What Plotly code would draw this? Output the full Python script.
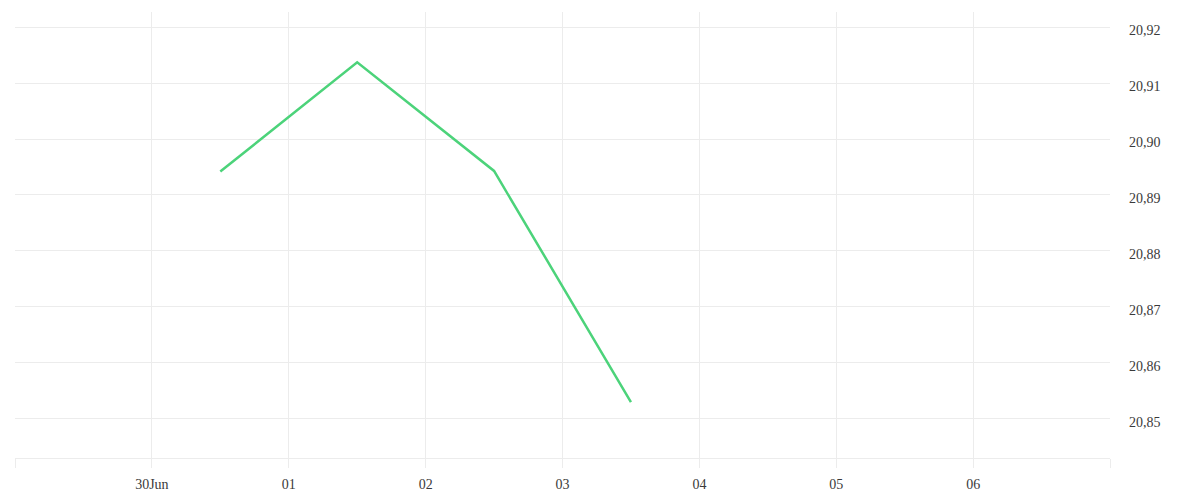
import plotly.graph_objects as go

# daily values, plotted at midday
dates = ["2023-06-30 12:00", "2023-07-01 12:00", "2023-07-02 12:00", "2023-07-03 12:00"]
values = [20.8942, 20.9137, 20.8943, 20.8530]

tick_dates = ["2023-06-29", "2023-06-30", "2023-07-01", "2023-07-02", "2023-07-03",
              "2023-07-04", "2023-07-05", "2023-07-06", "2023-07-07"]
tick_labels = ["", "30Jun", "01", "02", "03", "04", "05", "06", ""]

y_ticks = [20.85, 20.86, 20.87, 20.88, 20.89, 20.90, 20.91, 20.92]
y_labels = [f"{v:.2f}".replace(".", ",") for v in y_ticks]

GRID = "#ececec"
FONT = dict(family="Liberation Serif", size=14, color="#3a3a3a")

fig = go.Figure()
fig.add_trace(go.Scatter(
    x=dates, y=values,
    mode="lines",
    line=dict(color="#4cd37a", width=2.5),
    hoverinfo="x+y",
    showlegend=False,
))

# page has an 8px body margin, so margins are trimmed to line up the plot area
fig.update_layout(
    width=1200, height=500,
    margin=dict(l=7, r=98, t=4, b=50),
    paper_bgcolor="white",
    plot_bgcolor="white",
    font=FONT,
    xaxis=dict(
        type="date",
        range=["2023-06-29", "2023-07-07"],
        tickmode="array",
        tickvals=tick_dates,
        ticktext=tick_labels,
        showgrid=True, gridcolor=GRID, gridwidth=1,
        ticks="outside", ticklen=9, tickcolor=GRID, tickwidth=1,
        ticklabelstandoff=4,
        showline=True, linecolor=GRID, linewidth=1,
        zeroline=False,
    ),
    yaxis=dict(
        side="right",
        range=[20.8430, 20.9227],
        tickmode="array",
        tickvals=y_ticks,
        ticktext=y_labels,
        showgrid=True, gridcolor=GRID, gridwidth=1,
        ticks="", ticklabelstandoff=18, ticklabelshift=3,
        showline=False,
        zeroline=False,
    ),
)

fig.write_html("out.html")
